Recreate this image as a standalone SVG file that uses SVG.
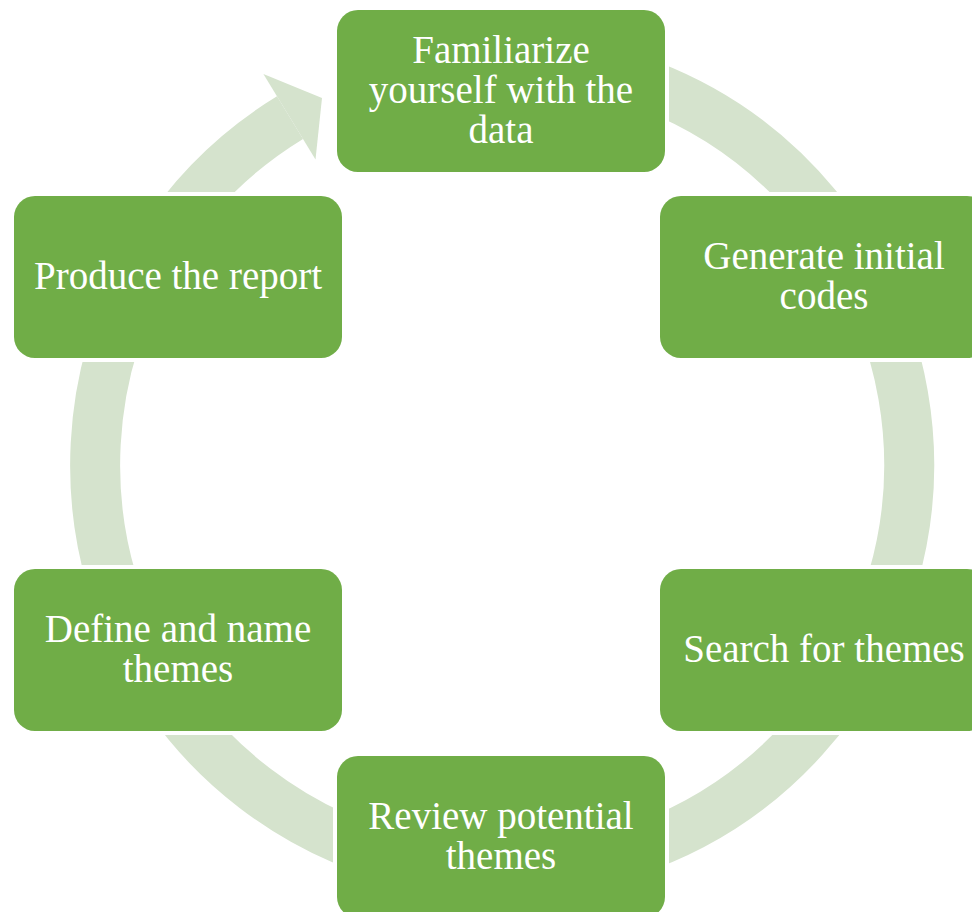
<svg xmlns="http://www.w3.org/2000/svg" width="972" height="912" viewBox="0 0 972 912">
  <style>
    .ring { fill: none; stroke: #d5e3cd; stroke-width: 50; }
    .head { fill: #d5e3cd; }
    .box { fill: #70ad47; stroke: #ffffff; stroke-width: 8; paint-order: stroke; }
    .lbl { font-family: "Liberation Serif", "Times New Roman", serif; font-size: 39px; fill: #ffffff; text-anchor: middle; }
  </style>
  <rect width="972" height="912" fill="#ffffff"/>
  <g id="connectors">
    <path class="ring" d="M 466.5 59.5 A 407 407 0 1 1 290.0 117.6"/>
    <polygon class="head" points="263.4,74.1 322,98 315.5,159.4"/>
  </g>
  <g id="node-familiarize">
    <rect class="box" x="337" y="10" width="328" height="162" rx="21" ry="21"/>
    <text class="lbl" x="501" y="63">Familiarize</text>
    <text class="lbl" x="501" y="103">yourself with the</text>
    <text class="lbl" x="501" y="143">data</text>
  </g>
  <g id="node-generate">
    <rect class="box" x="660" y="196" width="328" height="162" rx="21" ry="21"/>
    <text class="lbl" x="824" y="269">Generate initial</text>
    <text class="lbl" x="824" y="309">codes</text>
  </g>
  <g id="node-search">
    <rect class="box" x="660" y="569" width="328" height="162" rx="21" ry="21"/>
    <text class="lbl" x="824" y="662">Search for themes</text>
  </g>
  <g id="node-review">
    <rect class="box" x="337" y="756" width="328" height="162" rx="21" ry="21"/>
    <text class="lbl" x="501" y="829">Review potential</text>
    <text class="lbl" x="501" y="869">themes</text>
  </g>
  <g id="node-define">
    <rect class="box" x="14" y="569" width="328" height="162" rx="21" ry="21"/>
    <text class="lbl" x="178" y="642">Define and name</text>
    <text class="lbl" x="178" y="682">themes</text>
  </g>
  <g id="node-produce">
    <rect class="box" x="14" y="196" width="328" height="162" rx="21" ry="21"/>
    <text class="lbl" x="178" y="289">Produce the report</text>
  </g>
</svg>
